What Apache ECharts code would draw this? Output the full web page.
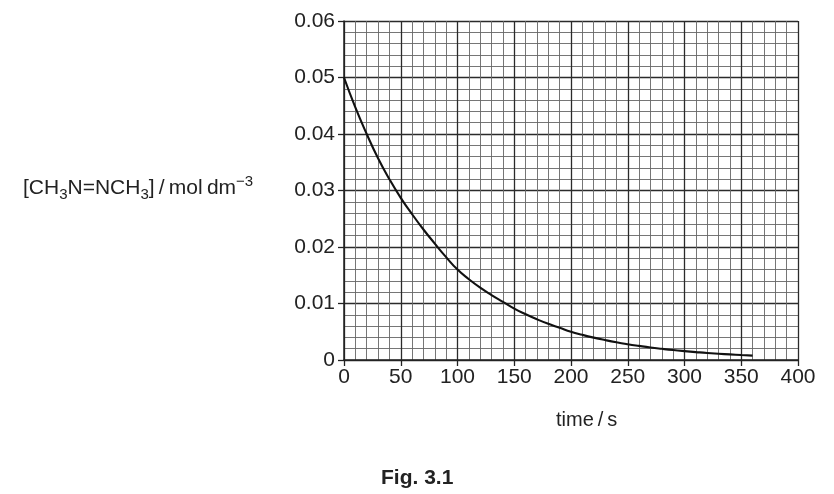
<!DOCTYPE html>
<html>
<head>
<meta charset="utf-8">
<script src="https://cdn.jsdelivr.net/npm/echarts@6/dist/echarts.min.js"></script>
<style>
  html, body { margin: 0; padding: 0; background: #fff; }
  #chart { width: 834px; height: 494px; }
</style>
</head>
<body>
<div id="chart"></div>
<script>
// values (every 10 s)
var times = [0, 10, 20, 30, 40, 50, 60, 70, 80, 90, 100, 110, 120, 130, 140, 150, 160, 170, 180, 190,
    200, 210, 220, 230, 240, 250, 260, 270, 280, 290, 300, 310, 320, 330, 340, 350, 360];
var conc = [0.050, 0.0447, 0.0400, 0.0357, 0.0320, 0.0287, 0.0258, 0.0231, 0.0206, 0.0182,
    0.0160, 0.0143, 0.0128, 0.0115, 0.0103, 0.0091, 0.0081, 0.0072, 0.0064, 0.0057,
    0.0050, 0.00445, 0.00396, 0.00353, 0.00314, 0.0028, 0.0025, 0.00222, 0.00198, 0.00176,
    0.00157, 0.0014, 0.00124, 0.00111, 0.00099, 0.00088, 0.00078];
var xTicks = [0, 50, 100, 150, 200, 250, 300, 350, 400];
var yTicks = [0, 0.01, 0.02, 0.03, 0.04, 0.05, 0.06];

var font = '"Liberation Sans", Arial, sans-serif';
var chart = echarts.init(document.getElementById('chart'));

var points = times.map(function (t, i) { return [t, conc[i]]; });

var majorLine = { show: true, lineStyle: { color: '#2b2b2b', width: 1.3 } };
var minorLine = { show: true, lineStyle: { color: '#666', width: 0.9 } };

chart.setOption({
    backgroundColor: '#fff',
    animation: false,
    title: [
        {
            text: '[CH{sub|3}N=NCH{sub|3}]\u2009/\u2009mol\u2009dm{sup|−3}',
            left: 18,
            top: 169,
            textStyle: {
                fontFamily: font,
                fontSize: 21,
                fontWeight: 'normal',
                color: '#222',
                lineHeight: 28,
                rich: {
                    sub: { fontFamily: font, fontSize: 15, color: '#222', lineHeight: 15, verticalAlign: 'bottom' },
                    sup: { fontFamily: font, fontSize: 15, color: '#222', lineHeight: 15, verticalAlign: 'top' }
                }
            }
        },
        {
            text: 'time\u2009/\u2009s',
            left: 551,
            top: 405,
            textStyle: { fontFamily: font, fontSize: 20, fontWeight: 'normal', color: '#222' }
        },
        {
            text: 'Fig. 3.1',
            left: 376,
            top: 463,
            textStyle: { fontFamily: font, fontSize: 21, fontWeight: 'bold', color: '#222' }
        }
    ],
    grid: { left: 344, right: 36, top: 21, bottom: 134 },
    xAxis: {
        type: 'value',
        min: xTicks[0],
        max: xTicks[xTicks.length - 1],
        interval: 50,
        axisLine: { show: true, lineStyle: { color: '#222', width: 1.5 } },
        axisTick: { show: true, length: 6, lineStyle: { color: '#222', width: 1.3 } },
        axisLabel: { fontFamily: font, fontSize: 21, color: '#222', margin: 7 },
        splitLine: majorLine,
        minorTick: { show: false, splitNumber: 5 },
        minorSplitLine: minorLine
    },
    yAxis: {
        type: 'value',
        min: yTicks[0],
        max: yTicks[yTicks.length - 1],
        interval: 0.01,
        axisLine: { show: true, lineStyle: { color: '#222', width: 1.5 } },
        axisTick: { show: true, length: 6, lineStyle: { color: '#222', width: 1.3 } },
        axisLabel: {
            fontFamily: font, fontSize: 21, color: '#222', margin: 9,
            formatter: function (v) { return v === 0 ? '0' : v.toFixed(2); }
        },
        splitLine: majorLine,
        minorTick: { show: false, splitNumber: 5 },
        minorSplitLine: minorLine
    },
    series: [{
        type: 'line',
        data: points,
        smooth: true,
        symbol: 'none',
        lineStyle: { color: '#111', width: 2.1 },
        z: 5
    }]
});
</script>
</body>
</html>
